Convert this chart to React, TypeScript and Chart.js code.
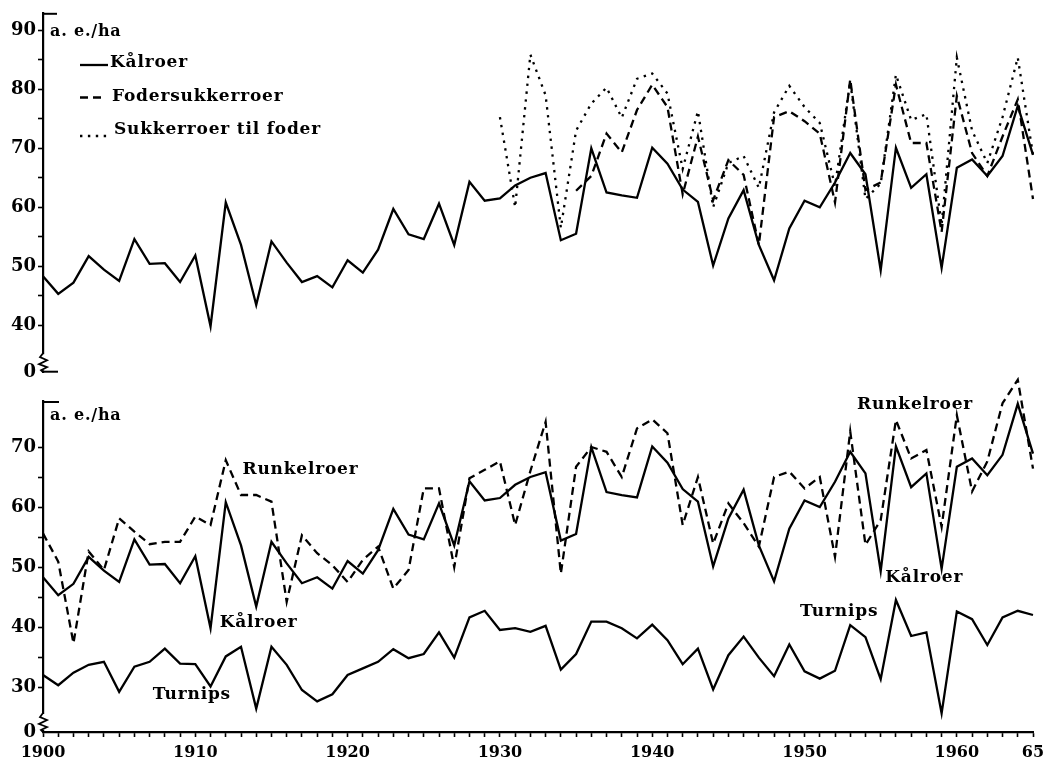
import React, { useEffect, useRef } from 'react';
import { Chart, registerables } from 'chart.js';

Chart.register(...registerables);

// ---------- data ----------
const years = [
  '1900','1901','1902','1903','1904','1905','1906','1907','1908','1909',
  '1910','1911','1912','1913','1914','1915','1916','1917','1918','1919',
  '1920','1921','1922','1923','1924','1925','1926','1927','1928','1929',
  '1930','1931','1932','1933','1934','1935','1936','1937','1938','1939',
  '1940','1941','1942','1943','1944','1945','1946','1947','1948','1949',
  '1950','1951','1952','1953','1954','1955','1956','1957','1958','1959',
  '1960','1961','1962','1963','1964','1965',
];

const xLabelYears = ['1900', '1910', '1920', '1930', '1940', '1950', '1960', '1965'];
const xLabelTexts = ['1900', '1910', '1920', '1930', '1940', '1950', '1960', '65'];

// Kålroer 1900-1965 (both panels)
const kaalroer = [
  48.3, 45.3, 47.2, 51.7, 49.4, 47.5, 54.6, 50.4, 50.5, 47.3,
  51.8, 39.8, 60.8, 53.6, 43.4, 54.2, 50.6, 47.3, 48.3, 46.4,
  51.0, 48.9, 52.8, 59.7, 55.4, 54.6, 60.6, 53.6, 64.3, 61.1,
  61.5, 63.7, 65.0, 65.8, 54.4, 55.5, 70.0, 62.5, 62.0, 61.6,
  70.1, 67.4, 63.0, 60.9, 50.1, 58.1, 62.9, 53.6, 47.6, 56.4,
  61.1, 60.0, 64.2, 69.2, 65.6, 49.3, 70.1, 63.3, 65.6, 49.7,
  66.7, 68.1, 65.3, 68.7, 77.2, 68.9,
];

// Fodersukkerroer 1935-1965
const fodersukkerStart = '1935';
const fodersukkerroer = [
  62.8, 65.3, 72.5, 69.3, 76.5, 80.8, 77.0, 62.2, 72.0, 61.2,
  68.0, 65.5, 53.6, 75.3, 76.3, 74.6, 72.5, 60.8, 81.7, 62.9,
  64.2, 80.8, 70.9, 70.9, 55.8, 78.9, 69.2, 65.3, 72.0, 78.3,
  61.4,
];

// Sukkerroer til foder 1930-1965
const sukkerStart = '1930';
const sukkerroerTilFoder = [
  75.3, 60.0, 85.9, 79.0, 56.5, 73.0, 77.6, 80.3, 75.2, 81.8,
  82.7, 79.3, 66.5, 76.3, 60.0, 67.5, 68.7, 63.3, 76.1, 80.6,
  77.0, 74.3, 63.6, 81.4, 61.4, 64.0, 82.5, 74.8, 75.8, 57.0,
  85.4, 73.0, 67.5, 75.3, 85.4, 68.9,
];

// Runkelroer 1900-1965
const runkelroer = [
  55.6, 50.9, 37.3, 52.6, 49.5, 58.1, 55.9, 53.8, 54.2, 54.2,
  58.4, 57.0, 67.8, 62.0, 62.0, 60.9, 44.2, 55.3, 52.3, 50.3,
  47.5, 51.2, 53.4, 46.4, 49.5, 63.1, 63.1, 50.0, 64.8, 66.2,
  67.6, 57.0, 66.0, 74.2, 48.9, 66.7, 70.0, 69.2, 65.0, 73.1,
  74.6, 72.3, 57.0, 65.0, 53.9, 60.6, 57.3, 53.4, 65.0, 65.9,
  63.1, 65.0, 51.7, 72.6, 53.7, 57.8, 74.5, 68.1, 69.5, 56.7,
  75.3, 62.6, 67.6, 77.3, 81.2, 66.4,
];

// Turnips 1900-1965
const turnips = [
  32.0, 30.3, 32.4, 33.7, 34.2, 29.2, 33.4, 34.2, 36.4, 33.9,
  33.8, 30.1, 35.1, 36.7, 26.4, 36.7, 33.7, 29.5, 27.6, 28.8,
  32.0, 33.1, 34.2, 36.3, 34.8, 35.5, 39.1, 34.9, 41.6, 42.7,
  39.5, 39.8, 39.2, 40.2, 32.9, 35.5, 40.9, 40.9, 39.8, 38.1,
  40.4, 37.8, 33.8, 36.4, 29.6, 35.3, 38.4, 34.9, 31.8, 37.1,
  32.6, 31.4, 32.7, 40.3, 38.3, 31.3, 44.5, 38.5, 39.1, 25.6,
  42.6, 41.3, 37.0, 41.6, 42.7, 42.0,
];

// y-axis ticks (lowest value is shown as "0" across the axis break)
const topYMin = 32;
const topYMax = 93;
const topYTicks = [40, 45, 50, 55, 60, 65, 70, 75, 80, 85, 90];
const botYMin = 22.5;
const botYMax = 77.67;
const botYTicks = [30, 35, 40, 45, 50, 55, 60, 65, 70];

const legendNames = ['Kålroer', 'Fodersukkerroer', 'Sukkerroer til foder'];
const unitLabel = 'a. e./ha';

// annotations of lower panel: text, year, value
const bottomNotes: [string, number, number][] = [
  ['Runkelroer', 1913.1, 66.3],
  ['Kålroer', 1911.6, 40.8],
  ['Turnips', 1907.2, 28.8],
  ['Runkelroer', 1953.45, 77.0],
  ['Kålroer', 1955.3, 48.2],
  ['Turnips', 1949.7, 42.5],
];

// ---------- styling ----------
const FONT = 'DejaVu Serif';
const SOLID: number[] = [];
const DASH = [8, 5];
const DOT = [2.4, 5.5];
const LW = 2.3;

function pad(start: string, values: number[]) {
  const off = years.indexOf(start);
  const out: (number | null)[] = years.map(() => null);
  values.forEach((v, i) => { out[off + i] = v; });
  return out;
}

function lineDs(label: string, data: (number | null)[], dash: number[]) {
  return {
    label,
    data,
    borderColor: '#000',
    backgroundColor: '#000',
    borderWidth: LW,
    borderDash: dash,
    borderCapStyle: 'butt' as const,
    borderJoinStyle: 'miter' as const,
    pointRadius: 0,
    tension: 0,
    spanGaps: false,
    clip: false as const,
  };
}

function drawText(ctx: CanvasRenderingContext2D, s: string, x: number, y: number, size = 17) {
  ctx.save();
  ctx.font = `bold ${size}px "${FONT}"`;
  (ctx as any).letterSpacing = '0.8px';
  ctx.fillStyle = '#000';
  ctx.textAlign = 'left';
  ctx.textBaseline = 'middle';
  ctx.fillText(s, x, y);
  ctx.restore();
}

function drawBreak(ctx: CanvasRenderingContext2D, x: number, yb: number) {
  ctx.save();
  ctx.fillStyle = '#fff';
  ctx.fillRect(x - 2, yb - 18, 4, 16);
  ctx.strokeStyle = '#000';
  ctx.lineWidth = 1.8;
  ctx.beginPath();
  ctx.moveTo(x, yb - 19);
  ctx.lineTo(x - 3, yb - 15);
  ctx.lineTo(x + 4, yb - 12);
  ctx.lineTo(x - 4, yb - 8);
  ctx.lineTo(x + 4, yb - 5);
  ctx.lineTo(x - 2, yb - 2);
  ctx.lineTo(x, yb);
  ctx.stroke();
  ctx.restore();
}

function hline(ctx: CanvasRenderingContext2D, x1: number, x2: number, y: number, w = 2, dash: number[] = []) {
  ctx.save();
  ctx.strokeStyle = '#000';
  ctx.lineWidth = w;
  ctx.setLineDash(dash);
  ctx.beginPath();
  ctx.moveTo(x1, y);
  ctx.lineTo(x2, y);
  ctx.stroke();
  ctx.restore();
}

const topDecor = {
  id: 'topDecor',
  afterDraw(chart: any) {
    const { ctx, chartArea: ca, scales } = chart;
    hline(ctx, ca.left - 1, ca.left + 14, ca.top + 1);
    hline(ctx, ca.left - 1, ca.left + 15, ca.bottom - 0.5);
    drawBreak(ctx, ca.left, ca.bottom);
    drawText(ctx, unitLabel, ca.left + 7, scales.y.getPixelForValue(89.7), 16);
    // legend
    const lx = ca.left + 37;
    hline(ctx, lx, lx + 28, 65, LW, SOLID);
    drawText(ctx, legendNames[0], ca.left + 67, 63);
    hline(ctx, lx, lx + 26, 97.5, LW, DASH);
    drawText(ctx, legendNames[1], ca.left + 69, 97);
    hline(ctx, lx, lx + 28, 136, LW, DOT);
    drawText(ctx, legendNames[2], ca.left + 71, 130);
  },
};

const bottomDecor = {
  id: 'bottomDecor',
  afterDraw(chart: any) {
    const { ctx, chartArea: ca, scales } = chart;
    hline(ctx, ca.left - 1, ca.left + 16, ca.top + 1);
    drawBreak(ctx, ca.left, ca.bottom);
    drawText(ctx, unitLabel, ca.left + 7, scales.y.getPixelForValue(75.2), 16);
    bottomNotes.forEach(([t, yr, v]) => {
      drawText(ctx, t, scales.x.getPixelForValue(yr - 1900), scales.y.getPixelForValue(v));
    });
  },
};

function yScale(min: number, max: number, ticksList: number[]) {
  return {
    type: 'linear' as const,
    position: 'left' as const,
    min,
    max,
    afterFit: (s: any) => { s.width = 43; },
    afterBuildTicks: (s: any) => {
      s.ticks = [min, ...ticksList].map((v) => ({ value: v }));
    },
    border: { display: true, color: '#000', width: 2.2 },
    grid: {
      drawOnChartArea: false,
      drawTicks: true,
      tickLength: 5,
      tickWidth: 1.6,
      tickColor: (c: any) => (c.tick && c.tick.value === min ? 'rgba(0,0,0,0)' : '#000'),
    },
    ticks: {
      color: '#000',
      padding: 2,
      font: { family: FONT, size: 18, weight: 'bold' as const },
      callback: (v: any) => {
        if (v === min) return '0';
        return v % 10 === 0 ? String(v) : '';
      },
    },
  };
}

// layout: canvases overlap a little so the lower panel may draw above its axis top
const TOP_H = 385;
const BOT_TOP = 368;
const BOT_H = 765 - BOT_TOP;

export default function App() {
  const topRef = useRef<HTMLCanvasElement>(null);
  const botRef = useRef<HTMLCanvasElement>(null);

  useEffect(() => {
    const common = {
      responsive: false,
      animation: false as const,
      devicePixelRatio: 1,
      events: [] as any[],
      plugins: { legend: { display: false }, tooltip: { enabled: false } },
    };

    const top = new Chart(topRef.current!, {
      type: 'line',
      data: {
        labels: years,
        datasets: [
          lineDs(legendNames[2], pad(sukkerStart, sukkerroerTilFoder), DOT),
          lineDs(legendNames[1], pad(fodersukkerStart, fodersukkerroer), DASH),
          lineDs(legendNames[0], kaalroer, SOLID),
        ],
      },
      options: {
        ...common,
        layout: { padding: { left: 0, right: 21, top: 7, bottom: TOP_H - 373 } },
        scales: {
          x: { type: 'category', display: false, offset: false },
          y: yScale(topYMin, topYMax, topYTicks) as any,
        },
      },
      plugins: [topDecor],
    });

    const bot = new Chart(botRef.current!, {
      type: 'line',
      data: {
        labels: years,
        datasets: [
          lineDs('Runkelroer', runkelroer, DASH),
          lineDs('Kålroer', kaalroer, SOLID),
          lineDs('Turnips', turnips, SOLID),
        ],
      },
      options: {
        ...common,
        layout: { padding: { left: 0, right: 21, top: 401 - BOT_TOP, bottom: 0 } },
        scales: {
          x: {
            type: 'category',
            offset: false,
            afterFit: (s: any) => { s.height = 765 - 732; },
            border: { display: true, color: '#000', width: 2.2 },
            grid: { drawOnChartArea: false, drawTicks: true, tickLength: 5, tickWidth: 1.6, tickColor: '#000' },
            ticks: {
              color: '#000',
              padding: 6,
              autoSkip: false,
              maxRotation: 0,
              font: { family: FONT, size: 16, weight: 'bold' },
              callback: (_v: any, i: number) => {
                const k = xLabelYears.indexOf(years[i]);
                return k >= 0 ? xLabelTexts[k] : '';
              },
            },
          } as any,
          y: yScale(botYMin, botYMax, botYTicks) as any,
        },
      },
      plugins: [bottomDecor],
    });

    return () => {
      top.destroy();
      bot.destroy();
    };
  }, []);

  return (
    <div style={{ position: 'absolute', left: 0, top: 0, width: 1054, height: 765, background: '#fff' }}>
      <canvas ref={topRef} width={1054} height={TOP_H} style={{ position: 'absolute', left: 0, top: 0 }} />
      <canvas ref={botRef} width={1054} height={BOT_H} style={{ position: 'absolute', left: 0, top: BOT_TOP }} />
    </div>
  );
}
